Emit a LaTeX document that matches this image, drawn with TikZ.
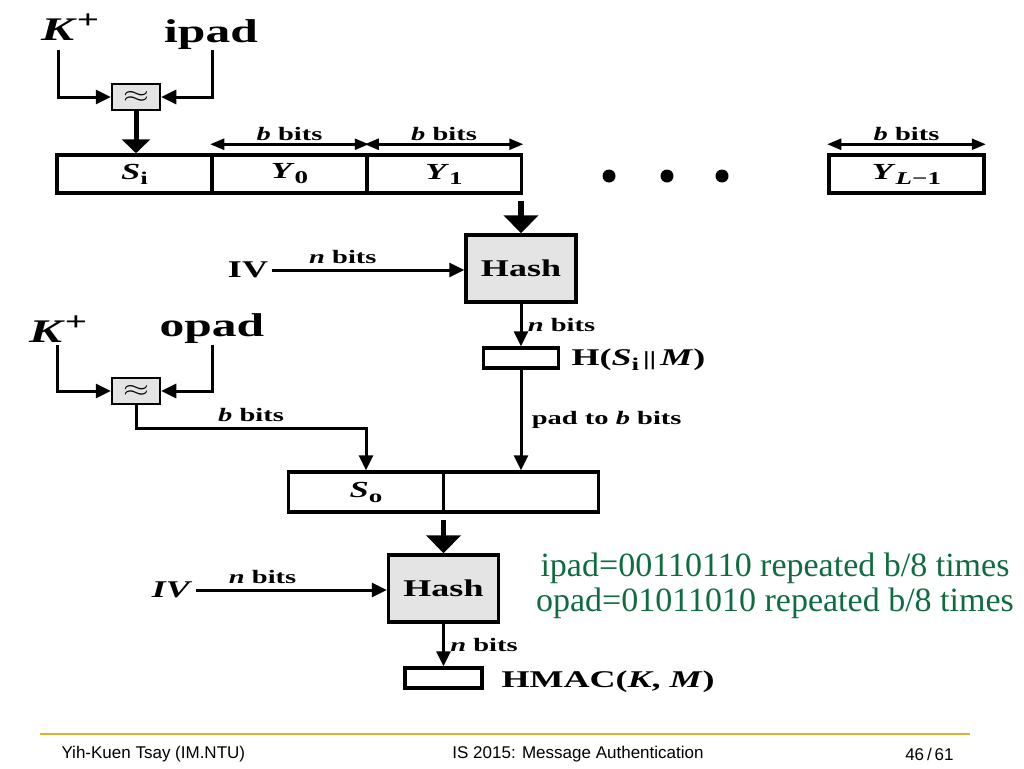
\documentclass[tikz,border=0pt]{standalone}
\usepackage{fontspec}
\setmainfont{Liberation Serif}
\newfontfamily\diagfont[FakeStretch=1.5]{Liberation Serif}
\newfontfamily\footfont{Liberation Sans}
\usetikzlibrary{arrows.meta}
\definecolor{notegreen}{RGB}{15,108,65}
\definecolor{footgold}{RGB}{218,178,44}
\definecolor{boxgray}{RGB}{228,228,228}
\newcommand{\apx}{\scalebox{1.6}[1.1]{$\approx$}}

\begin{document}
\begin{tikzpicture}[x=1pt, y=-1pt,
    cell/.style={draw, line width=3.5pt, minimum width=155pt, minimum height=38pt, inner sep=0pt, font=\fontsize{23}{26}\selectfont\diagfont\bfseries},
    mixbox/.style={draw, line width=2.5pt, fill=boxgray, minimum width=48pt, minimum height=26pt, inner sep=0pt, font=\fontsize{22}{24}\selectfont},
    hashbox/.style={draw, line width=3.5pt, fill=boxgray, minimum width=110pt, minimum height=67pt, inner sep=0pt, font=\fontsize{24}{26}\selectfont\diagfont\bfseries},
    outbox/.style={draw, line width=3.5pt, minimum height=20pt, inner sep=0pt},
    thin arrow/.style={line width=3pt, -{Triangle[length=15pt,width=14pt]}},
    fat arrow/.style={line width=5.5pt, -{Triangle[length=18pt,width=34pt]}},
    dim arrow/.style={line width=2.5pt, {Triangle[length=14pt,width=11pt]}-{Triangle[length=14pt,width=11pt]}},
    small/.style={font=\fontsize{19}{21}\selectfont\diagfont\bfseries},
    big/.style={font=\fontsize{33}{36}\selectfont\diagfont\bfseries},
    mid/.style={font=\fontsize{24}{26}\selectfont\diagfont\bfseries},
    note/.style={font=\fontsize{34}{36}\selectfont, text=notegreen},
    foot/.style={font=\fontsize{17}{19}\selectfont\footfont}]
    \useasboundingbox (0,0) rectangle (1024,768);

    % inner hash
    \node[big] (kin) at (70,27) {\textit{K}\raisebox{12pt}{\fontsize{26}{26}\selectfont +}};
    \node[big] (ipad) at (211,35) {ipad};
    \coordinate (kia) at (58,50);
    \coordinate (ipa) at (212,50);
    \node[mixbox] (mixi) at (136,97) {\apx};
    \draw[thin arrow] (kia) |- (mixi.west);
    \draw[thin arrow] (ipa) |- (mixi.east);

    \node[cell] (si) at (134.5,174) {\textit{S}\raisebox{-5pt}{\fontsize{18}{18}\selectfont i}};
    \node[cell] (y0) at (289.5,174) {\textit{Y}\raisebox{-5pt}{\fontsize{18}{18}\selectfont 0}};
    \node[cell] (y1) at (444,174) {\textit{Y}\raisebox{-5pt}{\fontsize{18}{18}\selectfont 1}};
    \node[cell] (yl) at (906.5,174) {\textit{Y}\raisebox{-5pt}{\fontsize{18}{18}\selectfont\textit{L}\symbol{"2212}1}};
    \node[circle, fill, inner sep=0pt, minimum size=13pt] (dt1) at (609,176) {};
    \node[circle, fill, inner sep=0pt, minimum size=13pt] (dt2) at (667,176) {};
    \node[circle, fill, inner sep=0pt, minimum size=13pt] (dt3) at (722,176) {};
    \draw[line width=5pt, -{Triangle[length=14pt,width=28pt]}] (mixi.south) -- (mixi.south |- si.north);

    \draw[dim arrow] ([yshift=9pt]y0.north west) -- ([yshift=9pt]y0.north east) node[midway, above=-1pt, small] {\textit{b} bits};
    \draw[dim arrow] ([yshift=9pt]y1.north west) -- ([yshift=9pt]y1.north east) node[midway, above=-1pt, small] {\textit{b} bits};
    \draw[dim arrow] ([yshift=9pt]yl.north west) -- ([yshift=9pt]yl.north east) node[midway, above=-1pt, small] {\textit{b} bits};

    \node[hashbox] (hash1) at (521,268.5) {Hash};
    \draw[fat arrow] ([yshift=-6pt]hash1.north |- y1.south) -- (hash1.north);
    \node[mid] (iv1) at (248,270) {IV};
    \draw[thin arrow] (iv1.east) -- (iv1.east -| hash1.west) node[pos=0.37, above=1pt, small] {\textit{n} bits};

    \node[outbox, minimum width=75pt] (hi) at (521,358) {};
    \node[mid, anchor=west] (hil) at (568,360) {H(\textit{S}\raisebox{-5pt}{\fontsize{18}{18}\selectfont i}\,{\fontsize{20}{20}\selectfont ||}\,\textit{M})};
    \draw[thin arrow] (hash1.south) -- (hi.north) node[midway, right=2pt, small] {\textit{n} bits};

    % outer hash
    \node[big] (kout) at (58,329) {\textit{K}\raisebox{12pt}{\fontsize{26}{26}\selectfont +}};
    \node[big] (opad) at (212,329) {opad};
    \coordinate (koa) at (57,345);
    \coordinate (opa) at (212,345);
    \node[mixbox] (mixo) at (136,391) {\apx};
    \draw[thin arrow] (koa) |- (mixo.west);
    \draw[thin arrow] (opa) |- (mixo.east);

    \node[cell, minimum height=40pt] (so) at (366,492) {\textit{S}\raisebox{-5pt}{\fontsize{18}{18}\selectfont o}};
    \node[cell, minimum height=40pt] (so2) at (521,492) {};
    \draw[thin arrow] (mixo.south) -- ++(0,23) -| (so.north) node[pos=0.25, above=2pt, small] {\textit{b} bits};
    \draw[thin arrow] (hi.south) -- (so2.north) node[midway, right=6pt, small] {pad to \textit{b} bits};

    \node[hashbox] (hash2) at (443.5,588.5) {Hash};
    \draw[fat arrow] ([yshift=-6pt]hash2.north |- so.south) -- (hash2.north);
    \node[mid] (iv2) at (172,590) {\textit{IV}};
    \draw[thin arrow] (iv2.east) -- (iv2.east -| hash2.west) node[pos=0.35, above=1pt, small] {\textit{n} bits};

    \node[outbox, minimum width=77pt] (hmac) at (443.5,678) {};
    \node[mid, anchor=west] (hmacl) at (498,682) {HMAC(\textit{K}, \textit{M})};
    \draw[thin arrow] (hash2.south) -- (hmac.north) node[midway, right=2pt, small] {\textit{n} bits};

    \node[note] (padi) at (775,568) {ipad=00110110 repeated b/8 times};
    \node[note] (pado) at (775,603) {opad=01011010 repeated b/8 times};

    % footer
    \coordinate (fl) at (40,734);
    \coordinate (fr) at (970,734);
    \draw[footgold, line width=2.5pt] (fl) -- (fr);
    \node[foot, anchor=west] (fauth) at (58,754) {Yih-Kuen Tsay (IM.NTU)};
    \node[foot] (ftitle) at (578,754) {IS 2015: Message Authentication};
    \node[foot, anchor=east] (fpage) at (957,754) {46\,/\,61};
\end{tikzpicture}
\end{document}
